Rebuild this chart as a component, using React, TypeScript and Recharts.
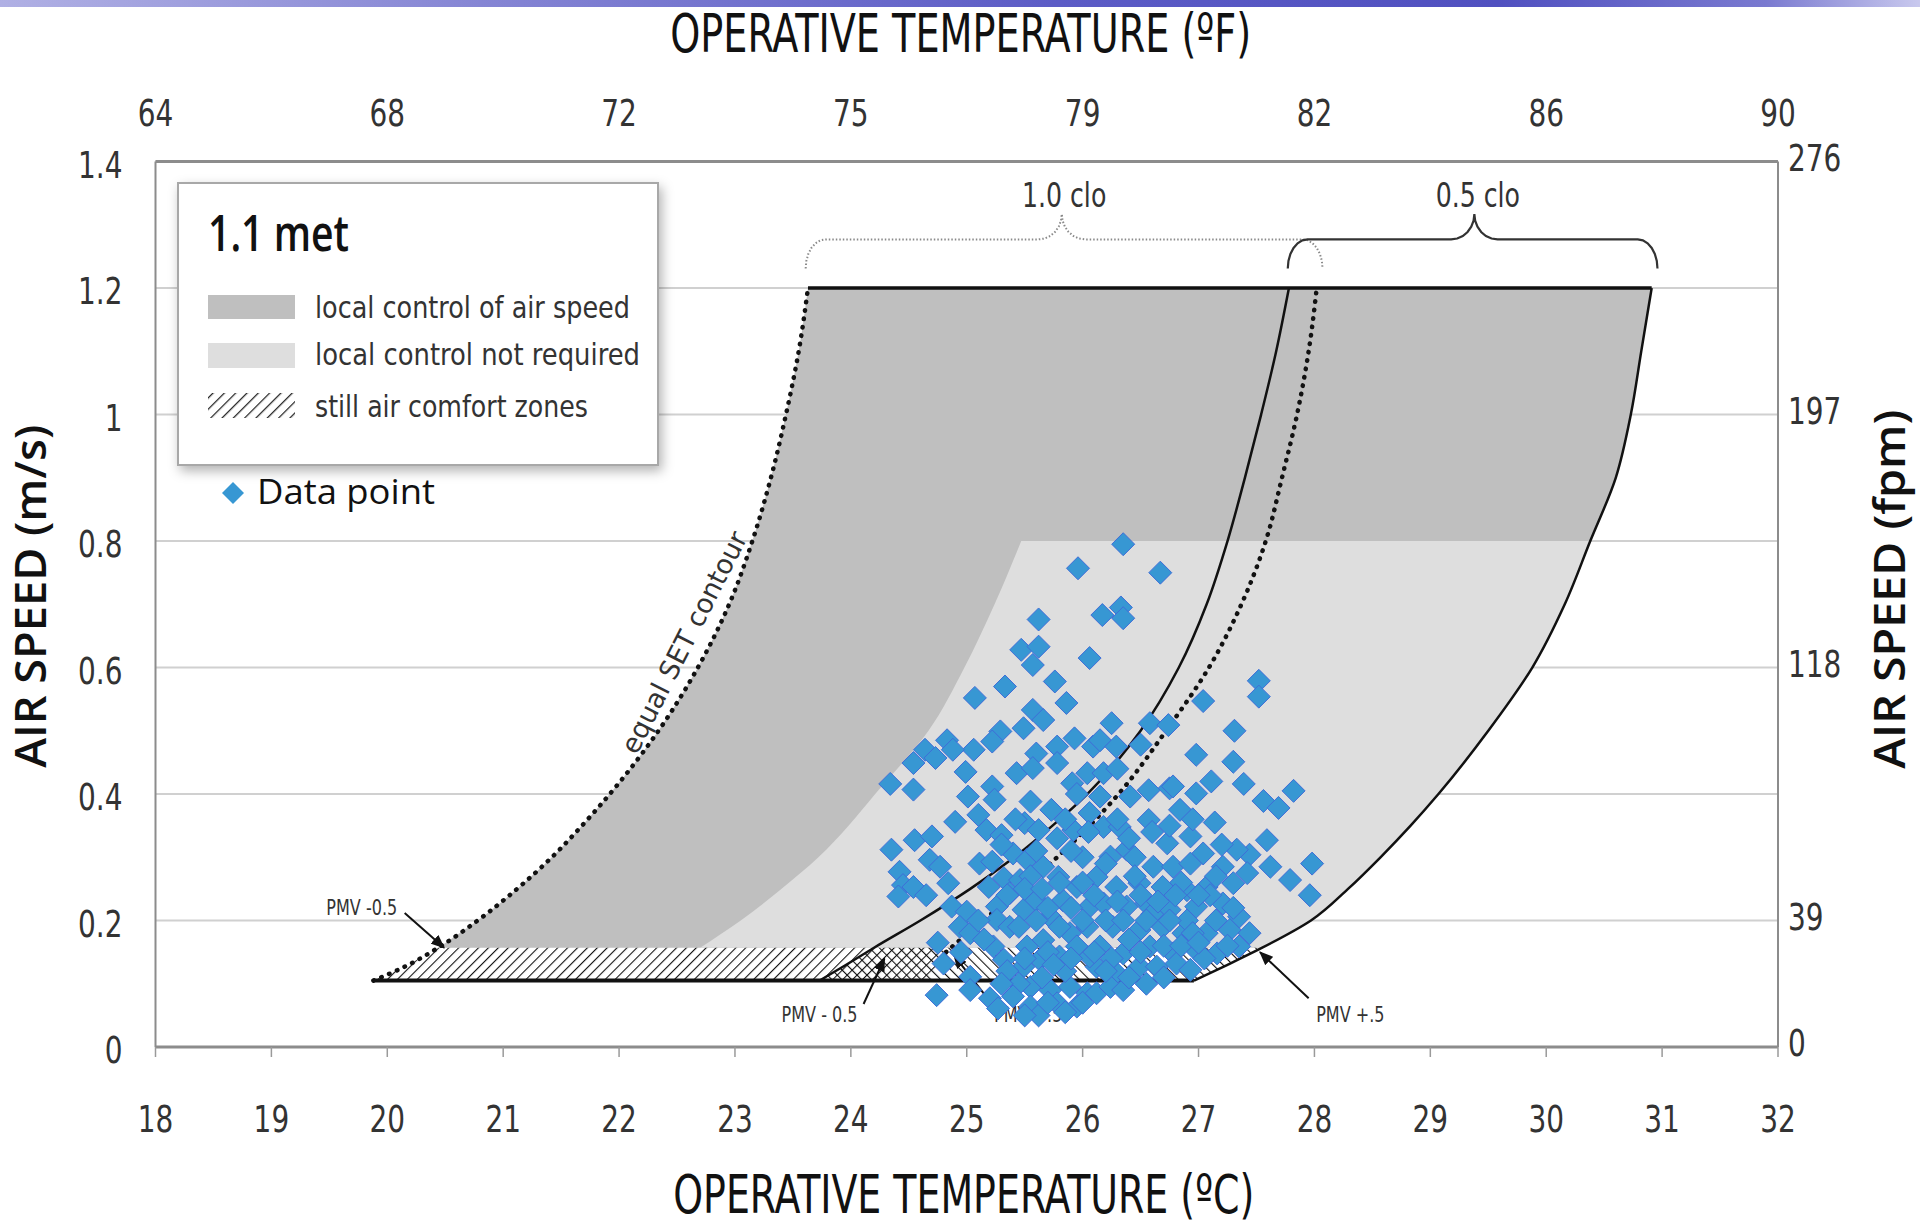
import React from 'react';
import {
  ComposedChart,
  XAxis,
  YAxis,
  CartesianGrid,
  Area,
  Line,
  Scatter,
  ReferenceDot,
  Legend,
} from 'recharts';

const NARROW = '"Liberation Sans Narrow", "DejaVu Sans Condensed", "Liberation Sans", sans-serif';
const SANS = '"Open Sans", "Noto Sans", sans-serif';
const DARK = '#bfbfbf';
const LIGHT = '#dedede';
const BLUE = '#3797d3';

// axes
const celsiusTicks = [18, 19, 20, 21, 22, 23, 24, 25, 26, 27, 28, 29, 30, 31, 32];
const fahrenheitTickPos = [18, 20, 22, 24, 26, 28, 30, 32];
const fahrenheitLabels = ['64', '68', '72', '75', '79', '82', '86', '90'];
const speedTicks = [0, 0.2, 0.4, 0.6, 0.8, 1, 1.2, 1.4];
const speedLabels = ['0', '0.2', '0.4', '0.6', '0.8', '1', '1.2', '1.4'];
const fpmTickPos = [0, 0.2, 0.6, 1, 1.4];
const fpmLabels = ['0', '39', '118', '197', '276'];

// comfort zone boundaries, [operative temp °C, air speed m/s]
// 1.0 clo, PMV -0.5 (equal SET contour, dotted)
const clo10Cool: [number, number][] = [
  [19.88, 0.105], [20.14, 0.126], [20.44, 0.157], [20.78, 0.2], [21.12, 0.25], [21.42, 0.3],
  [21.68, 0.35], [21.92, 0.4], [22.34, 0.5], [22.68, 0.6], [22.95, 0.7], [23.15, 0.8],
  [23.31, 0.9], [23.44, 1.0], [23.55, 1.1], [23.63, 1.2],
];
// 1.0 clo, PMV +0.5 (dotted)
const clo10Warm: [number, number][] = [
  [24.82, 0.15], [25.14, 0.2], [25.48, 0.25], [25.78, 0.3], [26.06, 0.35], [26.31, 0.4],
  [26.72, 0.5], [27.09, 0.6], [27.37, 0.7], [27.58, 0.8], [27.72, 0.9], [27.85, 1.0],
  [27.95, 1.1], [28.02, 1.2],
];
// 0.5 clo, PMV -0.5 (solid)
const clo05Cool: [number, number][] = [
  [23.73, 0.105], [23.96, 0.13], [24.2, 0.157], [24.6, 0.2], [25.03, 0.25], [25.41, 0.3],
  [25.74, 0.35], [26.04, 0.4], [26.5, 0.5], [26.83, 0.6], [27.07, 0.7], [27.25, 0.8],
  [27.4, 0.9], [27.54, 1.0], [27.67, 1.1], [27.78, 1.2],
];
// 0.5 clo, PMV +0.5 (solid)
const clo05Warm: [number, number][] = [
  [26.96, 0.105], [27.25, 0.13], [27.55, 0.157], [27.97, 0.2], [28.29, 0.25], [28.57, 0.3],
  [28.83, 0.35], [29.07, 0.4], [29.5, 0.5], [29.88, 0.6], [30.16, 0.7], [30.38, 0.8],
  [30.6, 0.9], [30.73, 1.0], [30.82, 1.1], [30.91, 1.2],
];
// left edge of "local control not required"
const noControlEdge: [number, number][] = [
  [22.7, 0.157], [23.05, 0.2], [23.4, 0.25], [23.72, 0.3], [23.98, 0.35], [24.21, 0.4],
  [24.67, 0.5], [24.98, 0.6], [25.24, 0.7], [25.47, 0.8],
];
// right edge of the 1.0 clo still air zone
const stillAir10Edge: [number, number][] = [[24.65, 0.105], [24.76, 0.126], [24.87, 0.157]];

// measured data points [°C, m/s]
const dataPoints: [number, number][] = [
  [25.96, 0.757], [26.35, 0.795], [26.67, 0.75],
  [25.62, 0.676], [26.17, 0.683], [26.33, 0.695], [26.35, 0.678],
  [25.47, 0.628], [25.62, 0.633], [25.57, 0.604], [26.06, 0.615],
  [25.76, 0.578], [25.33, 0.57], [25.07, 0.552], [25.86, 0.544], [25.57, 0.533], [25.66, 0.517],
  [25.49, 0.504], [25.29, 0.499], [24.83, 0.485], [25.22, 0.483], [25.06, 0.47], [24.64, 0.47],
  [25.93, 0.488], [25.78, 0.475], [25.6, 0.464], [26.09, 0.475], [24.54, 0.449], [24.73, 0.457], [24.88, 0.47],
  [27.52, 0.579], [27.52, 0.554], [27.04, 0.547], [27.31, 0.5], [26.58, 0.512], [26.74, 0.509], [26.25, 0.512],
  [26.15, 0.485], [26.5, 0.478], [26.98, 0.462], [27.3, 0.451], [26.29, 0.475],
  [27.11, 0.42], [26.75, 0.409], [27.39, 0.416], [27.82, 0.405], [27.56, 0.389], [27.69, 0.378], [27.14, 0.355],
  [27.59, 0.327], [27.98, 0.29], [27.62, 0.285], [27.79, 0.264], [27.96, 0.24], [27.44, 0.304], [27.33, 0.312], [27.42, 0.275],
  [24.34, 0.416], [24.54, 0.407], [24.99, 0.435], [25.01, 0.396], [25.22, 0.412], [25.24, 0.391], [25.43, 0.433],
  [25.57, 0.441], [25.55, 0.388], [25.73, 0.375], [25.78, 0.449], [25.91, 0.417], [26.04, 0.433],
  [24.9, 0.356], [25.1, 0.367], [25.17, 0.343], [25.3, 0.335], [25.5, 0.354], [25.62, 0.343], [25.78, 0.33], [25.92, 0.343],
  [24.55, 0.327], [24.7, 0.333], [24.35, 0.312], [24.68, 0.296], [24.77, 0.285], [24.42, 0.277],
  [25.11, 0.29], [25.22, 0.293], [25.4, 0.306], [25.52, 0.296], [25.66, 0.285], [25.79, 0.269],
  [24.84, 0.259], [24.45, 0.256], [24.41, 0.238], [24.54, 0.253], [24.65, 0.24],
  [25.19, 0.253], [25.32, 0.267], [25.46, 0.264],
  [24.87, 0.222], [25.0, 0.214], [24.94, 0.19], [25.03, 0.18], [25.26, 0.222], [25.37, 0.243], [25.26, 0.201], [25.37, 0.19],
  [25.49, 0.217], [25.6, 0.232], [25.72, 0.206], [25.83, 0.232], [25.95, 0.253], [26.06, 0.222], [26.04, 0.19], [25.89, 0.18],
  [25.66, 0.169], [25.52, 0.159], [25.23, 0.159], [24.8, 0.132], [25.03, 0.111], [24.74, 0.082], [25.03, 0.09], [25.2, 0.077], [25.27, 0.061],
  [25.32, 0.138], [25.49, 0.127], [25.63, 0.138], [25.8, 0.143], [25.95, 0.159], [25.55, 0.095], [25.72, 0.09], [25.89, 0.095], [26.04, 0.085],
  [25.78, 0.069], [25.95, 0.064], [25.55, 0.064], [26.12, 0.127],
  [26.18, 0.433], [26.41, 0.396], [26.57, 0.406], [26.78, 0.412], [26.98, 0.401],
  [26.57, 0.359], [26.84, 0.375], [26.18, 0.348], [26.32, 0.348], [26.06, 0.37], [26.15, 0.396],
  [26.38, 0.312], [26.24, 0.301], [26.73, 0.322], [26.93, 0.333], [27.04, 0.306],
  [26.61, 0.285], [26.78, 0.285], [26.93, 0.29], [27.21, 0.285],
  [26.12, 0.269], [26.29, 0.253], [26.49, 0.259], [26.69, 0.253], [26.9, 0.248], [27.07, 0.253], [27.3, 0.259],
  [26.18, 0.227], [26.38, 0.222], [26.55, 0.227], [26.75, 0.217], [26.98, 0.222], [27.21, 0.227], [27.35, 0.206],
  [26.26, 0.19], [26.49, 0.185], [26.69, 0.19], [26.87, 0.18], [27.07, 0.18], [27.27, 0.185], [27.44, 0.18],
  [26.15, 0.159], [26.35, 0.148], [26.58, 0.159], [26.78, 0.148], [26.98, 0.153], [27.16, 0.148], [27.35, 0.159],
  [26.29, 0.117], [26.49, 0.127], [26.64, 0.127], [26.81, 0.132], [26.93, 0.122], [26.12, 0.085], [26.24, 0.095], [26.06, 0.143],
  [25.42, 0.36], [25.85, 0.36], [26.0, 0.3], [26.45, 0.3], [26.6, 0.34], [26.95, 0.36], [25.95, 0.4], [26.3, 0.44],
  [25.7, 0.22], [26.2, 0.2], [26.4, 0.17], [26.7, 0.16], [26.9, 0.2], [27.1, 0.24], [26.0, 0.26], [26.2, 0.29],
  [25.45, 0.1], [25.65, 0.11], [25.85, 0.12], [26.35, 0.09], [25.1, 0.2], [25.15, 0.17], [25.4, 0.08],
  [25.62, 0.05], [25.85, 0.055], [26.0, 0.07],
  [27.2, 0.32], [27.15, 0.27], [26.85, 0.26], [26.6, 0.21], [26.45, 0.27], [27.05, 0.14], [26.7, 0.11],
  [25.3, 0.32], [25.55, 0.27], [25.9, 0.31],
  [25.35, 0.24], [25.5, 0.25], [25.65, 0.25], [25.8, 0.26], [25.9, 0.22], [26.1, 0.24], [26.3, 0.23],
  [26.5, 0.24], [26.65, 0.23], [26.8, 0.24], [27.0, 0.24],
  [25.45, 0.19], [25.6, 0.2], [25.8, 0.19], [26.0, 0.2], [26.35, 0.2], [26.55, 0.2], [26.75, 0.2],
  [26.95, 0.18], [27.15, 0.2], [27.3, 0.22],
  [25.5, 0.14], [25.7, 0.15], [25.9, 0.14], [26.1, 0.15], [26.25, 0.14], [26.5, 0.15], [26.85, 0.16],
  [27.0, 0.165], [27.25, 0.16],
  [25.35, 0.12], [25.75, 0.13], [26.2, 0.12], [26.4, 0.11], [26.55, 0.1], [25.5, 0.05], [25.7, 0.07], [25.3, 0.1],
  [26.05, 0.34], [26.4, 0.33], [26.75, 0.35], [25.6, 0.31], [26.3, 0.36], [24.95, 0.15], [24.75, 0.165],
];

// helpers to build the series tables
const toLine = (c: [number, number][]) => c.map(([x, y]) => ({ x, y }));
const band = (left: [number, number][], right: [number, number][], yMin: number, yMax: number) =>
  left
    .filter(([, y]) => y >= yMin && y <= yMax)
    .map(([x, y]) => ({ y, range: [x, (right.find((p) => p[1] === y) as [number, number])[0]] }));

const controlZone = band(clo10Cool, clo05Warm, 0.157, 1.2);
const noControlZone = band(noControlEdge, clo05Warm, 0.157, 0.8);
const stillAir10 = band(clo10Cool, stillAir10Edge, 0.1, 0.157);
const stillAir05 = band(clo05Cool, clo05Warm, 0.1, 0.157);
const points = dataPoints.map(([x, y]) => ({ x, y }));
// invisible series so the fpm axis gets a scale
const fpmAnchor = [{ x: 18, y: 0 }, { x: 18, y: 1.4 }];

// curly brace outline (annotation only)
const brace = (x1: number, xm: number, x2: number) => {
  const yH = 1.277, yEnd = 1.231, yTip = 1.317, rx = 0.17, rt = 0.2;
  const steps = [0, 15, 30, 45, 60, 75, 90].map((d) => (d * Math.PI) / 180);
  const out: { x: number; y: number }[] = [];
  steps.forEach((t) => out.push({ x: x1 + rx * (1 - Math.cos(t)), y: yEnd + (yH - yEnd) * Math.sin(t) }));
  steps.forEach((t) => out.push({ x: xm - rt + rt * Math.sin(t), y: yH + (yTip - yH) * (1 - Math.cos(t)) }));
  [...steps].reverse().forEach((t) => out.push({ x: xm + rt - rt * Math.sin(t), y: yH + (yTip - yH) * (1 - Math.cos(t)) }));
  [...steps].reverse().forEach((t) => out.push({ x: x2 - rx * (1 - Math.cos(t)), y: yEnd + (yH - yEnd) * Math.sin(t) }));
  return out;
};

const Diamond = (p: any) => {
  const { cx, cy } = p;
  const r = 11.5;
  return (
    <path
      d={`M${cx},${cy - r}L${cx + r},${cy}L${cx},${cy + r}L${cx - r},${cy}Z`}
      fill={BLUE}
      stroke="#3f6dd8"
      strokeWidth={1}
    />
  );
};

// tick label, slightly condensed like the original typeface
const tickText = (x: number, y: number, anchor: string, text: string) => (
  <text
    transform={`translate(${x},${y}) scale(0.84,1)`}
    textAnchor={anchor}
    fontFamily={NARROW}
    fontSize={37}
    fill="#333"
  >
    {text}
  </text>
);
const BottomTick = ({ x, y, payload }: any) => tickText(x, y + 75, 'middle', String(payload.value));
const TopTick = ({ x, y, payload }: any) =>
  tickText(x, y - 36, 'middle', fahrenheitLabels[fahrenheitTickPos.indexOf(payload.value)]);
const LeftTick = ({ x, y, payload }: any) =>
  tickText(x - 33, y + 16, 'end', speedLabels[speedTicks.indexOf(payload.value)]);
const RightTick = ({ x, y, payload }: any) =>
  tickText(x + 10, y + 9, 'start', fpmLabels[fpmTickPos.indexOf(payload.value)]);

const TopTitle = ({ viewBox }: any) => (
  <text
    x={viewBox.x + viewBox.width / 2 - 6}
    y={viewBox.y + viewBox.height - 110}
    textAnchor="middle"
    fontFamily={NARROW}
    fontSize={54}
    fill="#111"
    textLength={581}
    lengthAdjust="spacingAndGlyphs"
  >
    OPERATIVE TEMPERATURE (ºF)
  </text>
);
const BottomTitle = ({ viewBox }: any) => (
  <text
    x={viewBox.x + viewBox.width / 2 - 3}
    y={viewBox.y + 166}
    textAnchor="middle"
    fontFamily={NARROW}
    fontSize={54}
    fill="#111"
    textLength={581}
    lengthAdjust="spacingAndGlyphs"
  >
    OPERATIVE TEMPERATURE (ºC)
  </text>
);
const LeftTitle = ({ viewBox }: any) => {
  const cx = viewBox.x + viewBox.width - 126;
  const cy = viewBox.y + viewBox.height / 2 - 8;
  return (
    <text
      x={cx}
      y={cy}
      transform={`rotate(-90 ${cx} ${cy})`}
      textAnchor="middle"
      dominantBaseline="central"
      fontFamily={SANS}
      fontWeight={600}
      fontSize={44}
      fill="#111"
      textLength={343}
      lengthAdjust="spacingAndGlyphs"
    >
      AIR SPEED (m/s)
    </text>
  );
};
const RightTitle = ({ viewBox }: any) => {
  const cx = viewBox.x + 110;
  const cy = viewBox.y + viewBox.height / 2 - 15;
  return (
    <text
      x={cx}
      y={cy}
      transform={`rotate(-90 ${cx} ${cy})`}
      textAnchor="middle"
      dominantBaseline="central"
      fontFamily={SANS}
      fontWeight={600}
      fontSize={44}
      fill="#111"
      textLength={359}
      lengthAdjust="spacingAndGlyphs"
    >
      AIR SPEED (fpm)
    </text>
  );
};

const note = (text: string, size: number) => (p: any) => (
  <text
    transform={`translate(${p.cx},${p.cy + size * 0.36}) scale(0.85,1)`}
    textAnchor="middle"
    fontFamily={NARROW}
    fontSize={size}
    fill="#333"
  >
    {text}
  </text>
);

const LegendBox = () => (
  <svg width={520} height={350} style={{ display: 'block', overflow: 'visible' }}>
    <defs>
      <filter id="legendShadow" x="-10%" y="-10%" width="130%" height="130%">
        <feDropShadow dx="3" dy="5" stdDeviation="6" floodColor="#000" floodOpacity="0.3" />
      </filter>
      <pattern id="legendHatch" patternUnits="userSpaceOnUse" width="8" height="8" patternTransform="rotate(45)">
        <line x1="0" y1="0" x2="0" y2="8" stroke="#222" strokeWidth="2.5" />
      </pattern>
    </defs>
    <rect x={8} y={8} width={480} height={282} fill="#fff" stroke="#a8a8a8" strokeWidth={2} filter="url(#legendShadow)" />
    <text x={38} y={76} fontFamily={SANS} fontWeight={600} fontSize={50} fill="#111" textLength={141} lengthAdjust="spacingAndGlyphs">
      1.1 met
    </text>
    <rect x={38} y={120} width={87} height={24} fill={DARK} />
    <text x={145} y={143} fontFamily={NARROW} fontSize={31} fill="#333" textLength={315} lengthAdjust="spacingAndGlyphs">
      local control of air speed
    </text>
    <rect x={38} y={168} width={87} height={25} fill={LIGHT} />
    <text x={145} y={190} fontFamily={NARROW} fontSize={31} fill="#333" textLength={325} lengthAdjust="spacingAndGlyphs">
      local control not required
    </text>
    <rect x={38} y={218} width={87} height={25} fill="url(#legendHatch)" />
    <text x={145} y={242} fontFamily={NARROW} fontSize={31} fill="#333" textLength={273} lengthAdjust="spacingAndGlyphs">
      still air comfort zones
    </text>
    <path d="M63,307L74,318L63,329L52,318Z" fill={BLUE} />
    <text x={87} y={329} fontFamily={SANS} fontSize={34} fill="#111" textLength={178} lengthAdjust="spacingAndGlyphs">
      Data point
    </text>
  </svg>
);

const lineBase = { dot: false, activeDot: false, isAnimationActive: false } as const;

export default function App() {
  return (
    <div style={{ position: 'absolute', left: 0, top: 0, width: 1920, height: 1228, background: '#fff', overflow: 'hidden' }}>
      <ComposedChart
        width={1920}
        height={1228}
        layout="vertical"
        margin={{ top: 101.6, right: 42, bottom: 81, left: 55.5 }}
      >
        <defs>
          <pattern id="hatchFwd" patternUnits="userSpaceOnUse" width="7" height="7" patternTransform="rotate(45)">
            <line x1="0" y1="0" x2="0" y2="7" stroke="#111" strokeWidth="2.2" />
          </pattern>
          <pattern id="hatchBack" patternUnits="userSpaceOnUse" width="7" height="7" patternTransform="rotate(-45)">
            <line x1="0" y1="0" x2="0" y2="7" stroke="#111" strokeWidth="2.2" />
          </pattern>
          <marker id="arrowHead" viewBox="0 0 12 10" refX="11" refY="5" markerWidth="7" markerHeight="6" orient="auto">
            <path d="M0,0L12,5L0,10Z" fill="#111" />
          </marker>
        </defs>
        <CartesianGrid horizontal vertical={false} stroke="#d0d0d0" strokeWidth={2} />
        <XAxis
          type="number"
          dataKey="x"
          domain={[18, 32]}
          ticks={celsiusTicks}
          interval={0}
          allowDataOverflow
          height={100}
          tickSize={10}
          tickMargin={0}
          tick={<BottomTick />}
          axisLine={{ stroke: '#8c8c8c', strokeWidth: 3 }}
          tickLine={{ stroke: '#9a9a9a', strokeWidth: 1.5 }}
          label={{ content: BottomTitle }}
        />
        <XAxis
          xAxisId="top"
          orientation="top"
          type="number"
          domain={[18, 32]}
          ticks={fahrenheitTickPos}
          interval={0}
          allowDataOverflow
          height={60}
          tickSize={0}
          tickMargin={0}
          tick={<TopTick />}
          tickLine={false}
          axisLine={{ stroke: '#8c8c8c', strokeWidth: 3 }}
          label={{ content: TopTitle }}
        />
        <YAxis
          type="number"
          dataKey="y"
          domain={[0, 1.4]}
          reversed
          ticks={speedTicks}
          interval={0}
          allowDataOverflow
          width={100}
          tickSize={0}
          tickMargin={0}
          tick={<LeftTick />}
          tickLine={false}
          axisLine={{ stroke: '#8c8c8c', strokeWidth: 2 }}
          label={{ content: LeftTitle }}
        />
        <YAxis
          yAxisId="right"
          orientation="right"
          type="number"
          dataKey="y"
          domain={[0, 1.4]}
          reversed
          ticks={fpmTickPos}
          interval={0}
          allowDataOverflow
          width={100}
          tickSize={0}
          tickMargin={0}
          tick={<RightTick />}
          tickLine={false}
          axisLine={{ stroke: '#8c8c8c', strokeWidth: 2 }}
          label={{ content: RightTitle }}
        />

        <Area data={controlZone} dataKey="range" type="monotone" fill={DARK} fillOpacity={1} stroke="none" isAnimationActive={false} />
        <Area data={noControlZone} dataKey="range" type="monotone" fill={LIGHT} fillOpacity={1} stroke="none" isAnimationActive={false} />
        <Area data={stillAir10} dataKey="range" type="linear" fill="url(#hatchFwd)" fillOpacity={1} stroke="none" isAnimationActive={false} />
        <Area data={stillAir05} dataKey="range" type="linear" fill="url(#hatchBack)" fillOpacity={1} stroke="none" isAnimationActive={false} />

        <Line yAxisId="right" data={fpmAnchor} dataKey="x" type="linear" stroke="none" {...lineBase} />

        <Line data={toLine(clo10Cool)} dataKey="x" type="monotone" stroke="#111" strokeWidth={4.5} strokeDasharray="0.5 8" strokeLinecap="round" {...lineBase} />
        <Line data={toLine(clo10Warm)} dataKey="x" type="monotone" stroke="#111" strokeWidth={4.5} strokeDasharray="0.5 8" strokeLinecap="round" {...lineBase} />
        <Line data={toLine(clo05Cool)} dataKey="x" type="monotone" stroke="#111" strokeWidth={2.5} {...lineBase} />
        <Line data={toLine(clo05Warm)} dataKey="x" type="monotone" stroke="#111" strokeWidth={2.5} {...lineBase} />
        <Line data={[{ x: 23.63, y: 1.2 }, { x: 30.91, y: 1.2 }]} dataKey="x" type="linear" stroke="#111" strokeWidth={3.5} {...lineBase} />
        <Line data={[{ x: 19.88, y: 0.105 }, { x: 26.96, y: 0.105 }]} dataKey="x" type="linear" stroke="#111" strokeWidth={4} {...lineBase} />

        <Line data={brace(23.61, 25.82, 28.07)} dataKey="x" type="linear" stroke="#8a8a8a" strokeWidth={2} strokeDasharray="1.5 2" {...lineBase} />
        <Line data={brace(27.77, 29.38, 30.96)} dataKey="x" type="linear" stroke="#333" strokeWidth={2.2} {...lineBase} />

        <Line data={[{ x: 20.15, y: 0.212 }, { x: 20.49, y: 0.157 }]} dataKey="x" type="linear" stroke="#111" strokeWidth={2} markerEnd="url(#arrowHead)" {...lineBase} />
        <Line data={[{ x: 24.11, y: 0.068 }, { x: 24.29, y: 0.14 }]} dataKey="x" type="linear" stroke="#111" strokeWidth={2} markerEnd="url(#arrowHead)" {...lineBase} />
        <Line data={[{ x: 25.2, y: 0.072 }, { x: 24.89, y: 0.145 }]} dataKey="x" type="linear" stroke="#111" strokeWidth={2} markerEnd="url(#arrowHead)" {...lineBase} />
        <Line data={[{ x: 27.95, y: 0.077 }, { x: 27.53, y: 0.15 }]} dataKey="x" type="linear" stroke="#111" strokeWidth={2} markerEnd="url(#arrowHead)" {...lineBase} />

        <ReferenceDot x={25.84} y={1.347} r={0} shape={note('1.0 clo', 33)} />
        <ReferenceDot x={29.41} y={1.347} r={0} shape={note('0.5 clo', 33)} />
        <ReferenceDot x={19.78} y={0.221} r={0} shape={note('PMV -0.5', 21)} />
        <ReferenceDot x={23.73} y={0.051} r={0} shape={note('PMV - 0.5', 21)} />
        <ReferenceDot x={25.53} y={0.051} r={0} shape={note('PMV +.5', 21)} />
        <ReferenceDot x={28.31} y={0.051} r={0} shape={note('PMV +.5', 21)} />
        <ReferenceDot
          x={22.56}
          y={0.64}
          r={0}
          shape={(p: any) => (
            <text
              x={p.cx}
              y={p.cy}
              transform={`rotate(-63 ${p.cx} ${p.cy})`}
              textAnchor="middle"
              dominantBaseline="central"
              fontFamily={NARROW}
              fontSize={27}
              fill="#333"
              textLength={245}
              lengthAdjust="spacingAndGlyphs"
            >
              equal SET contour
            </text>
          )}
        />

        <Scatter data={points} shape={Diamond} isAnimationActive={false} />

        <Legend
          layout="vertical"
          align="center"
          verticalAlign="middle"
          content={LegendBox}
          wrapperStyle={{ position: 'absolute', left: 170, top: 175, width: 520, height: 350 }}
        />
      </ComposedChart>
      <div
        style={{
          position: 'absolute',
          left: 0,
          top: 0,
          width: 1920,
          height: 7,
          background: 'linear-gradient(90deg, #b0b0e4 0%, #8585d4 25%, #5c5cc6 55%, #5050c0 78%, #7a7ad0 92%, #c9c9ee 100%)',
        }}
      />
    </div>
  );
}
